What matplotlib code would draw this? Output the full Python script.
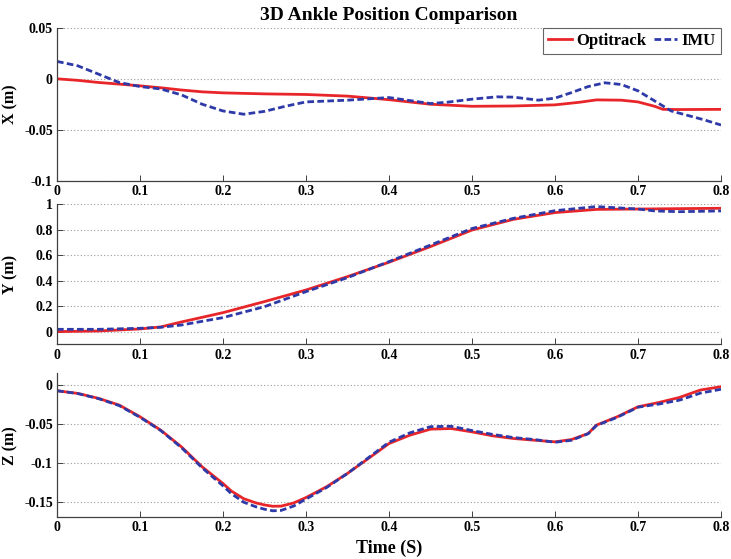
import matplotlib
matplotlib.use("Agg")
import matplotlib.pyplot as plt

# ---------------- data ----------------
t_x = [0, 0.025, 0.05, 0.075, 0.1, 0.125, 0.15, 0.175, 0.2, 0.25, 0.3, 0.35, 0.4, 0.45,
       0.5, 0.55, 0.6, 0.63, 0.65, 0.68, 0.7, 0.72, 0.73, 0.75, 0.8]
x_opti = [0, -0.0015, -0.0036, -0.0052, -0.0069, -0.0088, -0.011, -0.0128, -0.0138, -0.0148,
          -0.0154, -0.017, -0.0205, -0.025, -0.027, -0.0267, -0.0256, -0.023, -0.0207, -0.021,
          -0.0227, -0.027, -0.030, -0.0302, -0.030]

t_xi = [0, 0.025, 0.05, 0.075, 0.1, 0.125, 0.15, 0.175, 0.2, 0.225, 0.25, 0.275, 0.3, 0.35,
        0.4, 0.45, 0.47, 0.5, 0.53, 0.55, 0.58, 0.6, 0.62, 0.64, 0.66, 0.68, 0.7, 0.72, 0.74,
        0.76, 0.78, 0.8]
x_imu = [0.0171, 0.0128, 0.0046, -0.0036, -0.0076, -0.010, -0.0158, -0.025, -0.0316, -0.0348,
         -0.032, -0.027, -0.0227, -0.021, -0.0184, -0.0243, -0.023, -0.020, -0.0177, -0.018,
         -0.021, -0.019, -0.0135, -0.0076, -0.0039, -0.0056, -0.0118, -0.0217, -0.0316, -0.036,
         -0.0404, -0.0454]

t_y = [0, 0.05, 0.1, 0.125, 0.15, 0.2, 0.25, 0.3, 0.35, 0.4, 0.45, 0.5, 0.55, 0.6, 0.65,
       0.7, 0.75, 0.8]
y_opti = [0, 0.005, 0.021, 0.037, 0.076, 0.149, 0.236, 0.327, 0.432, 0.545, 0.668, 0.798,
          0.882, 0.935, 0.96, 0.963, 0.966, 0.969]
t_yi = [0, 0.05, 0.1, 0.125, 0.15, 0.2, 0.25, 0.3, 0.35, 0.4, 0.45, 0.5, 0.55, 0.6, 0.65,
        0.7, 0.72, 0.75, 0.8]
y_imu = [0.018, 0.018, 0.026, 0.034, 0.052, 0.11, 0.196, 0.314, 0.424, 0.55, 0.68, 0.81,
         0.89, 0.95, 0.982, 0.963, 0.948, 0.942, 0.948]

t_z = [0, 0.025, 0.05, 0.075, 0.1, 0.125, 0.15, 0.175, 0.2, 0.21, 0.225, 0.24, 0.25, 0.26,
       0.27, 0.285, 0.3, 0.325, 0.35, 0.375, 0.4, 0.425, 0.45, 0.475, 0.5, 0.525, 0.55, 0.575,
       0.6, 0.62, 0.64, 0.65, 0.675, 0.7, 0.725, 0.75, 0.775, 0.8]
z_opti = [-0.0069, -0.0103, -0.0167, -0.0253, -0.0403, -0.0575, -0.079, -0.1047, -0.126,
          -0.1356, -0.1455, -0.151, -0.1535, -0.1552, -0.155, -0.151, -0.144, -0.130, -0.113,
          -0.094, -0.0747, -0.064, -0.0562, -0.0554, -0.0597, -0.0648, -0.0682, -0.0704,
          -0.0725, -0.0695, -0.0618, -0.051, -0.0403, -0.0275, -0.022, -0.0155, -0.006, -0.0017]
z_imu = [-0.0069, -0.0105, -0.017, -0.026, -0.041, -0.058, -0.080, -0.106, -0.129, -0.139,
         -0.150, -0.156, -0.159, -0.161, -0.1605, -0.155, -0.146, -0.131, -0.113, -0.093,
         -0.073, -0.061, -0.053, -0.0525, -0.058, -0.063, -0.067, -0.0695, -0.073, -0.0705,
         -0.062, -0.0515, -0.041, -0.028, -0.024, -0.019, -0.010, -0.005]

xticks = [0, 0.1, 0.2, 0.3, 0.4, 0.5, 0.6, 0.7, 0.8]
xticklabels = ["0", "0.1", "0.2", "0.3", "0.4", "0.5", "0.6", "0.7", "0.8"]
yticks_x = [-0.1, -0.05, 0, 0.05]
yticklabels_x = ["-0.1", "-0.05", "0", "0.05"]
yticks_y = [0, 0.2, 0.4, 0.6, 0.8, 1.0]
yticklabels_y = ["0", "0.2", "0.4", "0.6", "0.8", "1"]
yticks_z = [-0.15, -0.1, -0.05, 0]
yticklabels_z = ["-0.15", "-0.1", "-0.05", "0"]

title = "3D Ankle Position Comparison"
labels = ["Optitrack", "IMU"]

# ---------------- style ----------------
plt.rcParams["font.family"] = ["Liberation Serif", "DejaVu Serif"]
plt.rcParams["font.weight"] = "bold"
plt.rcParams["axes.unicode_minus"] = False

RED = "#e8262a"
BLUE = "#2e3aa8"
LW = 2.0
DASH = (2.4, 1.2)
TICK_FS = 10
LABEL_FS = 11.5

fig = plt.figure(figsize=(7.31, 5.59), dpi=100)

L, W = 0.078, 0.9083
positions = [
    [L, 0.677, W, 0.273],
    [L, 0.384, W, 0.2505],
    [L, 0.0751, W, 0.2571],
]
axes = [fig.add_axes(p) for p in positions]

def style(ax, yt, ytl, ylim, ylabel):
    ax.set_xlim(0, 0.8)
    ax.set_ylim(*ylim)
    ax.set_xticks(xticks)
    ax.set_xticklabels(xticklabels, fontsize=TICK_FS, fontweight="bold")
    ax.set_yticks(yt)
    ax.set_yticklabels(ytl, fontsize=TICK_FS, fontweight="bold")
    ax.spines["top"].set_visible(False)
    ax.spines["right"].set_visible(False)
    for s in ("left", "bottom"):
        ax.spines[s].set_color("#404040")
        ax.spines[s].set_linewidth(0.9)
    ax.tick_params(direction="in", length=4, width=0.7, colors="#404040",
                   labelcolor="black", pad=3)
    ax.yaxis.grid(True, linestyle=(0, (1, 2)), color="#9a9a9a", linewidth=0.8)
    ax.set_axisbelow(True)
    ax.set_ylabel(ylabel, fontsize=LABEL_FS, fontweight="bold")
    ax.yaxis.set_label_coords(-0.058, 0.5)

ax1, ax2, ax3 = axes
l1, = ax1.plot(t_x, x_opti, color=RED, lw=LW, label=labels[0])
l2, = ax1.plot(t_xi, x_imu, color=BLUE, lw=LW, linestyle=(0, DASH), label=labels[1])
style(ax1, yticks_x, yticklabels_x, (-0.1, 0.05), "X (m)")
ax1.set_title(title, fontsize=14, fontweight="bold", pad=6)
leg = ax1.legend(handles=[l1, l2], loc="upper right", ncol=2, frameon=True, fancybox=False,
                 edgecolor="#404040", prop={"weight": "bold", "size": 12},
                 handlelength=1.4, handletextpad=0.3, columnspacing=0.4,
                 borderpad=0.3, borderaxespad=0.0)
leg.get_frame().set_linewidth(0.8)

ax2.plot(t_y, y_opti, color=RED, lw=LW)
ax2.plot(t_yi, y_imu, color=BLUE, lw=LW, linestyle=(0, DASH))
style(ax2, yticks_y, yticklabels_y, (-0.1, 1.0), "Y (m)")

ax3.plot(t_z, z_opti, color=RED, lw=LW)
ax3.plot(t_z, z_imu, color=BLUE, lw=LW, linestyle=(0, DASH))
style(ax3, yticks_z, yticklabels_z, (-0.169, 0.0155), "Z (m)")
ax3.set_xlabel("Time (S)", fontsize=13, fontweight="bold", labelpad=4)

fig.savefig("out.png", dpi=100)
